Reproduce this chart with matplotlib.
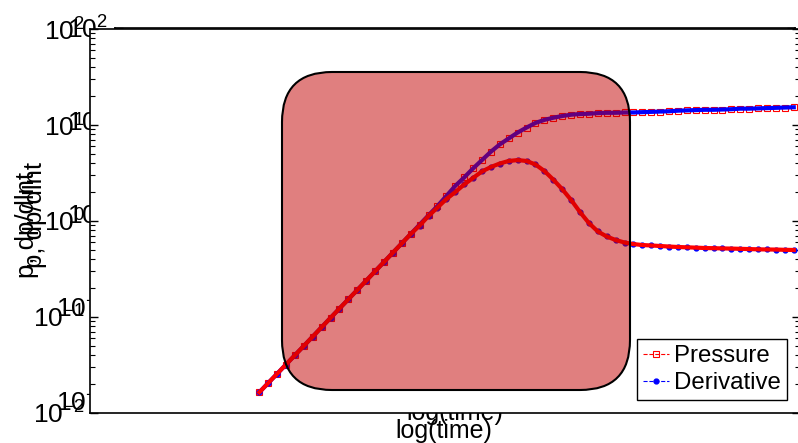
import numpy as np
import matplotlib
matplotlib.use("Agg")
import matplotlib.pyplot as plt
from matplotlib.patches import FancyBboxPatch
from matplotlib.ticker import LogLocator, LogFormatterMathtext, NullLocator

plt.rcParams['font.family'] = ['Liberation Sans', 'DejaVu Sans']
plt.rcParams['mathtext.fontset'] = 'custom'
plt.rcParams['mathtext.rm'] = 'Liberation Sans'
plt.rcParams['mathtext.it'] = 'Liberation Sans:italic'
plt.rcParams['mathtext.bf'] = 'Liberation Sans:bold'
plt.rcParams['mathtext.default'] = 'regular'

# data
log_time = [-0.1, 0.0, 0.1, 0.2, 0.3, 0.4, 0.5, 0.6, 0.7, 0.8, 0.9,
            1.0, 1.1, 1.2, 1.3, 1.4, 1.5, 1.6, 1.7, 1.8, 1.9,
            2.0, 2.1, 2.2, 2.3, 2.4, 2.5, 2.6, 2.7, 2.8, 2.9,
            3.0, 3.1, 3.2, 3.3, 3.4, 3.5, 3.6, 3.7, 3.8, 3.9,
            4.0, 4.1, 4.2, 4.3, 4.4, 4.5, 4.6, 4.7, 4.8, 4.9,
            5.0, 5.1, 5.2, 5.3, 5.4, 5.5, 5.6, 5.7, 5.8, 5.9]

pressure = [0.0164, 0.0205, 0.0256, 0.0320, 0.0400, 0.0500, 0.0625, 0.0783, 0.0979, 0.1225, 0.153,
            0.191, 0.239, 0.299, 0.374, 0.468, 0.585, 0.732, 0.916, 1.146, 1.43,
            1.82, 2.32, 2.84, 3.53, 4.31, 5.27, 6.28, 7.24, 8.34, 9.40,
            10.5, 11.3, 11.9, 12.4, 12.8, 13.0, 13.1, 13.3, 13.4, 13.4,
            13.5, 13.5, 13.6, 13.7, 13.8, 13.9, 14.1, 14.2, 14.3, 14.4,
            14.4, 14.5, 14.6, 14.8, 14.8, 14.9, 15.0, 15.1, 15.2, 15.3]

derivative = [0.0164, 0.0205, 0.0256, 0.0320, 0.0400, 0.0500, 0.0625, 0.0783, 0.0979, 0.1225, 0.153,
              0.191, 0.239, 0.299, 0.374, 0.468, 0.585, 0.732, 0.897, 1.127, 1.38,
              1.69, 2.00, 2.40, 2.81, 3.28, 3.65, 3.97, 4.22, 4.31, 4.22,
              3.88, 3.32, 2.70, 2.15, 1.66, 1.24, 0.953, 0.778, 0.690, 0.634,
              0.597, 0.575, 0.562, 0.556, 0.549, 0.542, 0.536, 0.532, 0.528, 0.523,
              0.521, 0.518, 0.516, 0.513, 0.510, 0.507, 0.505, 0.504, 0.501, 0.499]

FS = 18
TICK_FS = 19
LEG_FS = 17.3
W, H = 798, 443


def px_box(x0, y0, x1, y1):
    # pixel box (top-left origin) -> figure fraction rect
    return [x0 / W, 1 - y1 / H, (x1 - x0) / W, (y1 - y0) / H]


def style_axes(a, pad):
    a.set_yscale('log')
    a.set_ylim(1e-2, 1e2)
    a.set_xlim(-2, 5.97)
    a.yaxis.set_major_locator(LogLocator(base=10, numticks=10))
    a.yaxis.set_minor_locator(LogLocator(base=10, subs=np.arange(2, 10), numticks=10))
    a.yaxis.set_major_formatter(LogFormatterMathtext())
    a.xaxis.set_major_locator(NullLocator())
    a.xaxis.set_minor_locator(NullLocator())
    a.tick_params(axis='y', which='both', direction='in', right=True,
                  labelsize=TICK_FS, pad=pad)
    a.tick_params(axis='y', which='major', length=5.5, width=1)
    a.tick_params(axis='y', which='minor', length=3.5, width=0.8)
    for s in a.spines.values():
        s.set_linewidth(1.2)


fig = plt.figure(figsize=(7.98, 4.43), dpi=100)

# back copy of the axes (only its labels and top edge show)
ax_back = fig.add_axes(px_box(115, 27.5, 795, 400))
style_axes(ax_back, pad=5)
ax_back.set_xlabel('log(time)', fontsize=FS)
ax_back.xaxis.set_label_coords(4.55, 0.42, transform=fig.dpi_scale_trans)
ax_back.set_ylabel('p, dp/dlnt', fontsize=18.5, va='center')
ax_back.yaxis.set_label_coords(0.35, 2.28, transform=fig.dpi_scale_trans)

# front axes
ax = fig.add_axes(px_box(90, 29, 800, 413))
style_axes(ax, pad=3.6)
ax.set_xlabel('log(time)', fontsize=FS)
ax.xaxis.set_label_coords(4.44, 0.24, transform=fig.dpi_scale_trans)
ax.set_ylabel('p, dp/dlnt', fontsize=18.5, va='center')
ax.yaxis.set_label_coords(0.27, 2.18, transform=fig.dpi_scale_trans)

ax.plot(log_time, pressure, ls='--', lw=0.8, color='red', marker='s', ms=5,
        mfc='none', mec='red', mew=0.8, label='Pressure', zorder=2)
ax.plot(log_time, pressure, color='blue', lw=3, zorder=2.1)
ax.plot(log_time, derivative, ls='--', lw=0.8, color='blue', marker='o', ms=3.5,
        mfc='blue', mec='blue', label='Derivative', zorder=2.2)
ax.plot(log_time, derivative, color='red', lw=3, zorder=2.3)

box = FancyBboxPatch((2.82, 0.53), 3.48, 3.18,
                     boxstyle='round,pad=0,rounding_size=0.5',
                     transform=fig.dpi_scale_trans,
                     facecolor=(0.76, 0, 0, 0.5), edgecolor='black', lw=1.5,
                     zorder=4)
ax.add_patch(box)
ax.set_xlim(-2, 5.97)
ax.set_ylim(1e-2, 1e2)

leg = ax.legend(loc='lower left', bbox_to_anchor=(0.770, 0.034), borderaxespad=0,
                fontsize=LEG_FS, frameon=True, fancybox=False, framealpha=1,
                edgecolor='black', handlelength=1.1, handletextpad=0.2,
                borderpad=0.25, labelspacing=0.2)
leg.get_frame().set_linewidth(1)
leg.set_zorder(5)

fig.savefig('out.png', dpi=100)
